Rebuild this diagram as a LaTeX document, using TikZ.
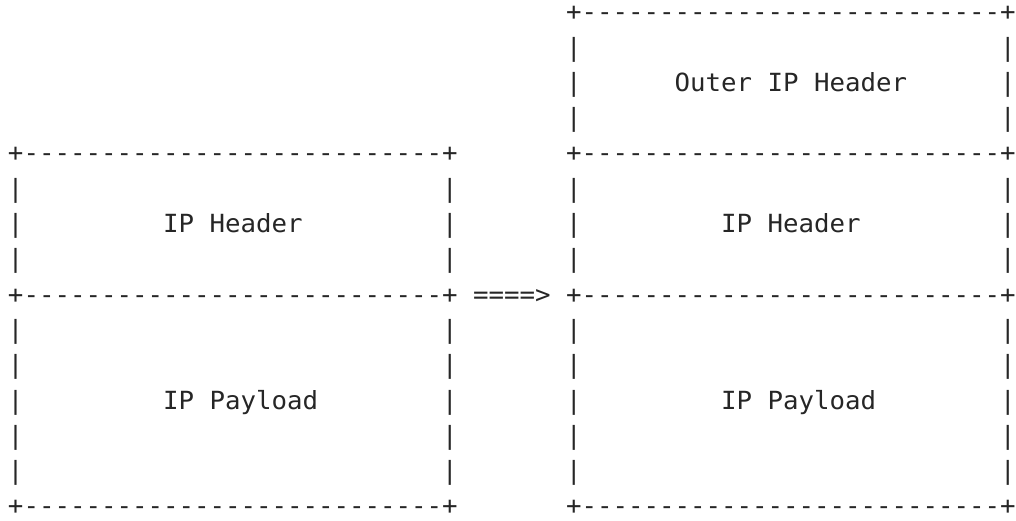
\documentclass[tikz,border=0pt]{standalone}
\usepackage{fontspec}
\setmonofont{DejaVu Sans Mono}[FakeStretch=1.030]
\tikzset{
  asc/.style={inner sep=0pt, outer sep=0pt, anchor=base west,
    font=\ttfamily\fontsize{25}{30}\selectfont, text=black!85}
}
% #1 name, #2 column, #3 row, #4 text
\newcommand\putch[4]{\node[asc] (#1) at ({8.0+15.5*#2},{500.2-35.3*#3}) {#4};}
\begin{document}
\begin{tikzpicture}[x=1pt,y=1pt]
\useasboundingbox (0,0) rectangle (1016,521);
% right box: outer header
\putch{r0b}{36}{0}{+---------------------------+}
\putch{r1b}{36}{1}{|}\putch{r1c}{64}{1}{|}
\putch{r2b}{36}{2}{|}\putch{outer}{43}{2}{Outer IP Header}\putch{r2c}{64}{2}{|}
\putch{r3b}{36}{3}{|}\putch{r3c}{64}{3}{|}
% row 4
\putch{r4a}{0}{4}{+---------------------------+}
\putch{r4b}{36}{4}{+---------------------------+}
% IP header rows
\putch{r5a}{0}{5}{|}\putch{r5d}{28}{5}{|}\putch{r5b}{36}{5}{|}\putch{r5c}{64}{5}{|}
\putch{r6a}{0}{6}{|}\putch{hdrL}{10}{6}{IP Header}\putch{r6d}{28}{6}{|}
\putch{r6b}{36}{6}{|}\putch{hdrR}{46}{6}{IP Header}\putch{r6c}{64}{6}{|}
\putch{r7a}{0}{7}{|}\putch{r7d}{28}{7}{|}\putch{r7b}{36}{7}{|}\putch{r7c}{64}{7}{|}
% row 8 with arrow
\putch{r8a}{0}{8}{+---------------------------+}
\putch{arrow}{30}{8}{====>}
\putch{r8b}{36}{8}{+---------------------------+}
% payload rows
\putch{r9a}{0}{9}{|}\putch{r9d}{28}{9}{|}\putch{r9b}{36}{9}{|}\putch{r9c}{64}{9}{|}
\putch{r10a}{0}{10}{|}\putch{r10d}{28}{10}{|}\putch{r10b}{36}{10}{|}\putch{r10c}{64}{10}{|}
\putch{r11a}{0}{11}{|}\putch{payL}{10}{11}{IP Payload}\putch{r11d}{28}{11}{|}
\putch{r11b}{36}{11}{|}\putch{payR}{46}{11}{IP Payload}\putch{r11c}{64}{11}{|}
\putch{r12a}{0}{12}{|}\putch{r12d}{28}{12}{|}\putch{r12b}{36}{12}{|}\putch{r12c}{64}{12}{|}
\putch{r13a}{0}{13}{|}\putch{r13d}{28}{13}{|}\putch{r13b}{36}{13}{|}\putch{r13c}{64}{13}{|}
% bottom
\putch{r14a}{0}{14}{+---------------------------+}
\putch{r14b}{36}{14}{+---------------------------+}
\end{tikzpicture}
\end{document}
